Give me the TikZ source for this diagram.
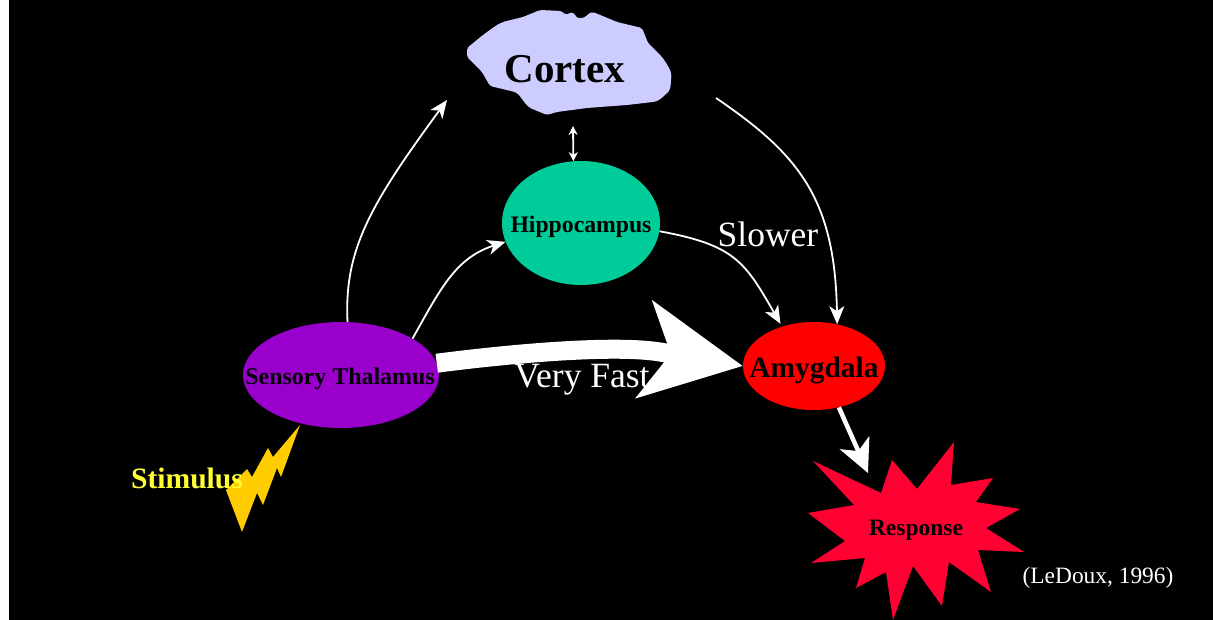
\documentclass[tikz,border=0pt]{standalone}
\usepackage{fontspec}
\setmainfont{Liberation Serif}
\usetikzlibrary{arrows.meta,positioning,shapes.geometric}
\newcommand{\fsz}[1]{\fontsize{#1}{#1}\selectfont}
\definecolor{cortexblue}{RGB}{204,204,255}
\definecolor{hippgreen}{RGB}{0,204,153}
\definecolor{thalpurple}{RGB}{153,0,204}
\definecolor{boltyellow}{RGB}{255,204,0}
\definecolor{stimyellow}{RGB}{255,255,51}
\definecolor{respred}{RGB}{255,0,51}

\begin{document}
\begin{tikzpicture}[
    x=1pt, y=-1pt,
    region/.style={ellipse, inner sep=0pt, text=black, font=\fsz{24}\bfseries},
    thinlink/.style={draw=white, line width=1.8pt, -{Stealth[length=18pt,width=15pt,inset=5pt]}},
    plain/.style={text=white, inner sep=0pt, font=\fsz{35.5}}
]
    \useasboundingbox (0,0) rectangle (1213,620);
    \fill[white] (0,0) rectangle (1213,620);
    \fill[black] (9,0) rectangle (1213,620);

    % Cortex outline
    \fill[cortexblue, rounded corners=2pt] (467,48) .. controls (472,44) and (478,39) .. (483,35)
        .. controls (490,30) and (496,25) .. (503,22) -- (523,17) -- (540,10) -- (562,11) -- (565,15) -- (573,12)
        .. controls (575,15) and (577,18) .. (580,18) .. controls (585,18) and (589,13) .. (593,12)
        -- (617,22) -- (642,28) -- (648,43) -- (662,57)
        .. controls (667,64) and (672,72) .. (671,78) .. controls (671,85) and (670,90) .. (667,93)
        .. controls (662,98) and (658,101) .. (653,102) -- (627,105) -- (587,108) -- (557,112) -- (547,115) -- (530,108)
        .. controls (524,103) and (520,95) .. (515,92) -- (490,86) -- (482,72) -- (467,57) -- cycle;

    % Regions
    \node[font=\fsz{41}\bfseries, text=black, inner sep=0pt] (cortex) at (565,69) {Cortex};
    \node[region, fill=hippgreen, minimum width=158pt, minimum height=124pt] (hipp) at (581,223) {};
    \node[font=\fsz{23.7}\bfseries, text=black, inner sep=0pt] (hipplabel) at (581,227) {Hippocampus};
    \node[region, fill=thalpurple, minimum width=196pt, minimum height=106pt] (thal) at (341,375) {};
    \node[font=\fsz{23.9}\bfseries, text=black, inner sep=0pt] (thallabel) at (340,379) {Sensory Thalamus};
    \node[region, fill=red, minimum width=142pt, minimum height=88pt] (amyg) at (814,366) {};
    \node[font=\fsz{29.4}\bfseries, text=black, inner sep=0pt] (amyglabel) at (814,371) {Amygdala};

    % Stimulus bolt
    \fill[boltyellow] (300,425) -- (281,477) -- (277,468) -- (263,505) -- (257,493) -- (242,532)
        -- (226,490) -- (247,469) -- (252,477) -- (268,448) -- (273,457) -- cycle;
    \node[font=\fsz{29.6}\bfseries, text=stimyellow, inner sep=0pt] (stim) at (187,478) {Stimulus};

    % Response burst
    \fill[respred] (813,461) -- (881,493) -- (892,460) -- (917,489) -- (954,442) -- (951,485)
        -- (993,478) -- (976,502) -- (1020,509) -- (986,528) -- (1024,552) -- (978,550) -- (991,592) -- (949,562)
        -- (942,606) -- (913,566) -- (893,620) -- (886,572) -- (856,588) -- (865,558) -- (811,563) -- (845,541)
        -- (808,513) -- (854,505) -- cycle;
    \node[font=\fsz{23.5}\bfseries, text=black, inner sep=0pt] (resp) at (916,530) {Response};

    % Labels
    \node[plain] (slower) at (768,234) {Slower};
    \node[plain] (fast) at (582,380) {Very Fast};
    \node[plain, font=\fsz{23.4}] (cite) at (1098,578) {(LeDoux, 1996)};

    % Free ends
    \coordinate (cortexLeft) at (447,100);
    \coordinate (cortexRight) at (716,98);
    \coordinate (cortexLow) at (573,126);
    \coordinate (respIn) at (868,473);
    \coordinate (fastBend) at (660,352);

    % Connectors
    \draw[thinlink] (thal.83) .. controls (344,250) and (370,205) .. (cortexLeft);
    \draw[thinlink] (thal.27) .. controls (440,290) and (455,258) .. (hipp.194);
    \draw[thinlink, shorten >=3pt] (hipp.-6) .. controls (735,245) and (745,262) .. (amyg.129);
    \draw[thinlink] (cortexRight) .. controls (800,155) and (835,200) .. (amyg.61);
    \draw[draw=white, line width=1.8pt, {Stealth[length=9pt,width=9pt]}-{Stealth[length=9pt,width=9pt]}] (hipp.97) -- (cortexLow);
    \draw[draw=white, line width=19pt, -{Stealth[length=99pt,width=97pt,inset=26pt]}] (thal.7) .. controls (500,355) and (610,344) .. (fastBend) -- (amyg.west);
    \draw[draw=white, line width=4.5pt, -{Stealth[length=33pt,width=32pt,inset=9pt]}] (amyg.-59) -- (respIn);
\end{tikzpicture}
\end{document}
